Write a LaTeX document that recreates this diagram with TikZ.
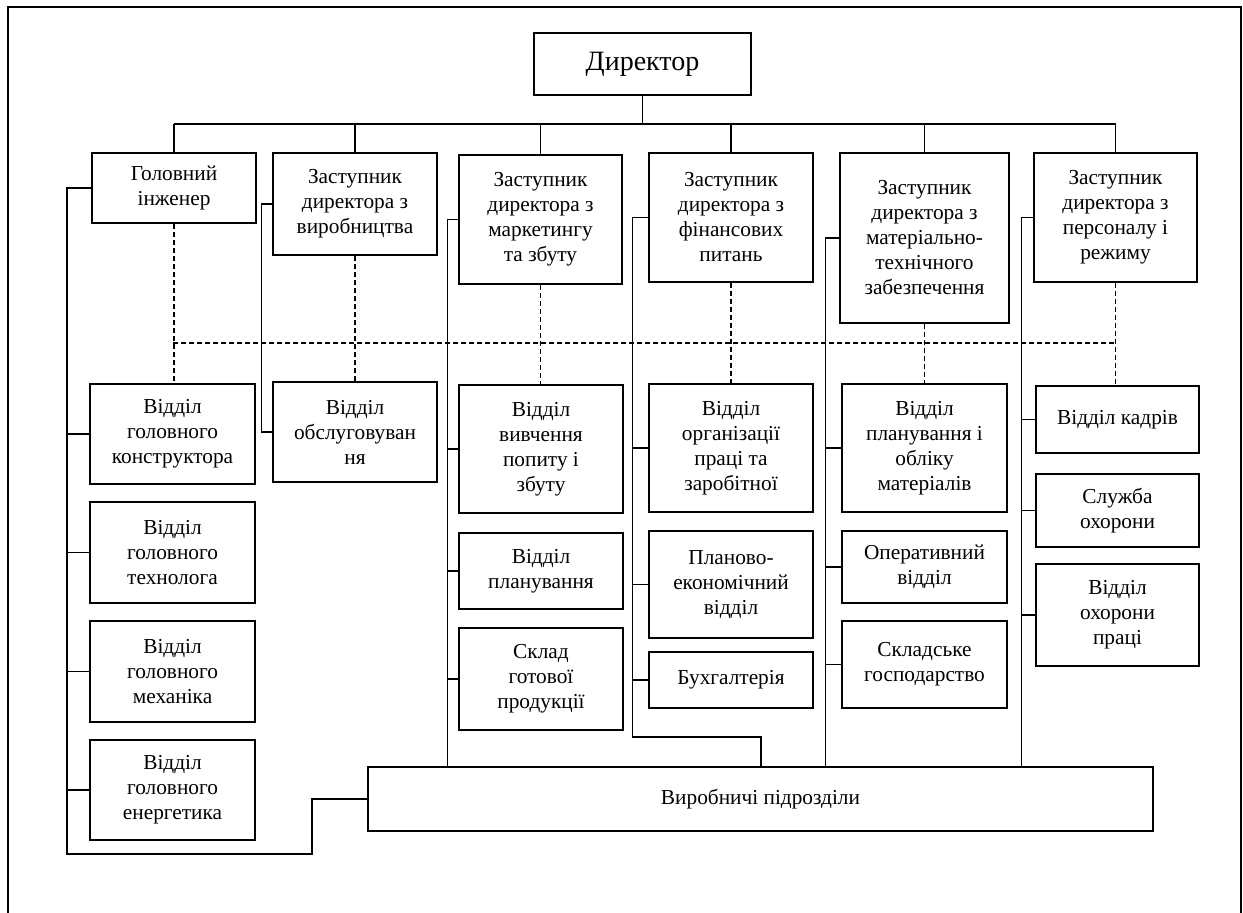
\documentclass[tikz,border=0pt]{standalone}
\usepackage{fontspec}
\setmainfont{Liberation Serif}
\usepackage{tikz}
\usetikzlibrary{calc,positioning}

\tikzset{
  box/.style={draw,line width=2pt,align=center,inner sep=0pt,
              font=\fontsize{16}{18.75}\selectfont},
  boxw/.style={minimum width=#1*0.75pt},
  boxh/.style={minimum height=#1*0.75pt},
  link/.style={line width=0.9pt},
  dashline/.style={line width=0.9pt,dash pattern=on 3.75pt off 2.25pt}
}

\begin{document}
\begin{tikzpicture}[x=0.75pt,y=-0.75pt]
  \useasboundingbox (0,0) rectangle (1243,913);
  % рамка
  \draw[line width=1.5pt] (8,913) -- (8,7) -- (1241,7) -- (1241,913);

  % директор
  \node[box,boxw=217,boxh=62,font=\fontsize{21}{25}\selectfont] (dir) at (642.5,64) {Директор};

  % заступники
  \node[box,boxw=164,boxh=70]  (gi)  at (174,188)    {Головний\\інженер};
  \node[box,boxw=164,boxh=102] (zv)  at (355,204)    {Заступник\\директора з\\виробництва};
  \node[box,boxw=163,boxh=129] (zm)  at (540.5,219.5) {Заступник\\директора з\\маркетингу\\та збуту};
  \node[box,boxw=164,boxh=129] (zf)  at (731,217.5)  {Заступник\\директора з\\фінансових\\питань};
  \node[box,boxw=169,boxh=170] (zmt) at (924.5,238)  {Заступник\\директора з\\матеріально-\\технічного\\забезпечення};
  \node[box,boxw=163,boxh=129] (zp)  at (1115.5,217.5) {Заступник\\директора з\\персоналу і\\режиму};

  % відділи
  \node[box,boxw=165,boxh=100] (gk) at (172.5,434)   {Відділ\\головного\\конструктора};
  \node[box,boxw=165,boxh=101] (gt) at (172.5,552.5) {Відділ\\головного\\технолога};
  \node[box,boxw=165,boxh=101] (gm) at (172.5,671.5) {Відділ\\головного\\механіка};
  \node[box,boxw=165,boxh=100] (ge) at (172.5,790)   {Відділ\\головного\\енергетика};

  \node[box,boxw=164,boxh=100] (vo) at (355,432) {Відділ\\обслуговуван\\ня};

  \node[box,boxw=164,boxh=128] (vp)  at (541,449) {Відділ\\вивчення\\попиту і\\збуту};
  \node[box,boxw=164,boxh=76]  (vpl) at (541,571) {Відділ\\планування};
  \node[box,boxw=164,boxh=102] (sg)  at (541,679) {Склад\\готової\\продукції};

  \node[box,boxw=164,boxh=128] (opz) at (731,448)   {Відділ\\організації\\праці та\\заробітної};
  \node[box,boxw=164,boxh=107] (pe)  at (731,584.5) {Планово-\\економічний\\відділ};
  \node[box,boxw=164,boxh=56]  (bu)  at (731,680)   {Бухгалтерія};

  \node[box,boxw=165,boxh=128] (pom) at (924.5,448)   {Відділ\\планування і\\обліку\\матеріалів};
  \node[box,boxw=165,boxh=72]  (op)  at (924.5,567)   {Оперативний\\відділ};
  \node[box,boxw=165,boxh=87]  (sk)  at (924.5,664.5) {Складське\\господарство};

  \node[box,boxw=163,boxh=67]  (vk)  at (1117.5,419.5) {Відділ кадрів};
  \node[box,boxw=163,boxh=73]  (so)  at (1117.5,510.5) {Служба\\охорони};
  \node[box,boxw=163,boxh=102] (vop) at (1117.5,615)   {Відділ\\охорони\\праці};

  \node[box,boxw=785,boxh=64] (vyr) at (760.5,799) {Виробничі підрозділи};

  % верхня шина
  \coordinate (hb) at (642.5,124);
  \draw[link] (dir.south) -- (hb);
  \draw[link] (gi.north |- hb) -- (zp.north |- hb);
  \foreach \n in {gi,zv,zm,zf,zmt,zp}
    \draw[link] (\n.north) -- (\n.north |- hb);

  % пунктирні зв'язки
  \coordinate (dl) at (173,343);
  \coordinate (dr) at (1116,343);
  \draw[dashline] (dl) -- (dr);
  \draw[dashline] (gi.south)  -- (gi.south |- gk.north);
  \draw[dashline] (zv.south)  -- (zv.south |- vo.north);
  \draw[dashline] (zm.south)  -- (zm.south |- vp.north);
  \draw[dashline] (zf.south)  -- (zf.south |- opz.north);
  \draw[dashline] (zmt.south) -- (zmt.south |- pom.north);
  \draw[dashline] (zp.south)  -- (zp.south |- vk.north);

  % головний інженер
  \coordinate (c1) at (67,854);
  \coordinate (c2) at (312,854);
  \draw[link] (gi.west) -| (c1) -- (c2) |- (vyr.west);
  \foreach \n in {gk,gt,gm,ge}
    \draw[link] (\n.west) -- (\n.west -| c1);

  % виробництво
  \draw[link] (zv.west) -- ++(-10,0) |- (vo.west);

  % маркетинг
  \draw[link] (zm.west) -- ++(-10,0) coordinate (c3) -- (c3 |- vyr.north);
  \foreach \n in {vp,vpl,sg}
    \draw[link] (\n.west) -- (\n.west -| c3);

  % фінанси
  \coordinate (c5) at (761,737);
  \draw[link] (zf.west) -- ++(-15,0) coordinate (c4) |- (c5) -- (c5 |- vyr.north);
  \foreach \n in {opz,pe,bu}
    \draw[link] (\n.west) -- (\n.west -| c4);

  % матеріально-технічне забезпечення
  \draw[link] (zmt.west) -- ++(-13,0) coordinate (c6) -- (c6 |- vyr.north);
  \foreach \n in {pom,op,sk}
    \draw[link] (\n.west) -- (\n.west -| c6);

  % персонал
  \draw[link] (zp.west) -- ++(-11,0) coordinate (c7) -- (c7 |- vyr.north);
  \foreach \n in {vk,so,vop}
    \draw[link] (\n.west) -- (\n.west -| c7);
\end{tikzpicture}
\end{document}
